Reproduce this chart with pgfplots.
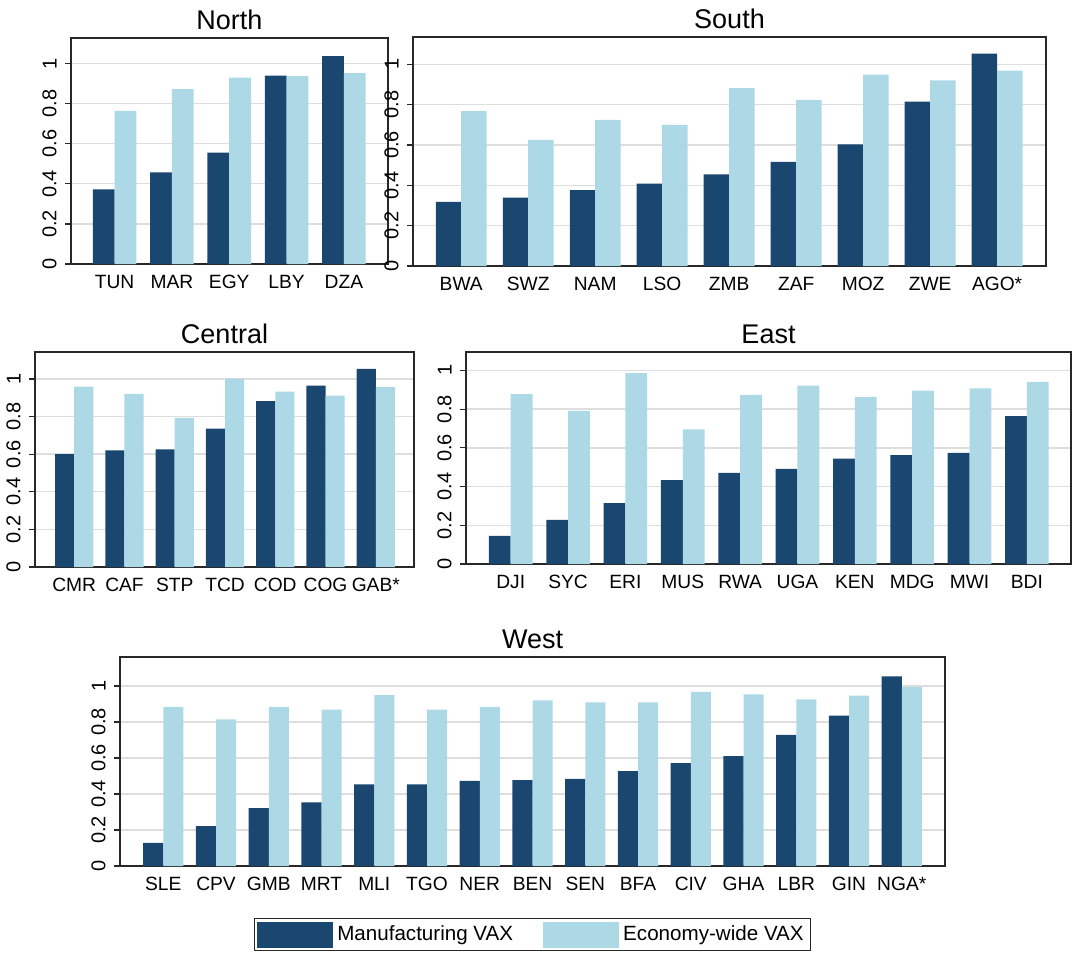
\documentclass[border=0pt]{standalone}
\usepackage{pgfplots}
\pgfplotsset{compat=1.18}
\usepackage{fontspec}
\setmainfont{Liberation Sans}

\definecolor{mfg}{RGB}{26,71,111}
\definecolor{eco}{RGB}{173,216,230}
\definecolor{gridc}{RGB}{222,222,222}
\definecolor{framec}{RGB}{40,40,40}

\pgfplotsset{
  panel/.style={
    scale only axis,
    anchor=north west,
    ymin=0,
    ytick={0,0.2,0.4,0.6,0.8,1},
    yticklabels={0,0.2,0.4,0.6,0.8,1},
    yticklabel style={rotate=90,anchor=south,font=\fontsize{10}{11}\selectfont,inner sep=4pt},
    xticklabel style={font=\fontsize{9.6}{11}\selectfont,inner sep=2pt,yshift=-3.3pt},
    ymajorgrids,
    grid style={gridc,line width=0.7pt},
    axis line style={framec,line width=0.6pt},
    ytick align=outside,
    ytick pos=left,
    xtick pos=bottom,
    y tick style={framec,line width=0.6pt},
    major tick length=3pt,
    x tick style={draw=none},
    title style={font=\fontsize{13.5}{15}\selectfont,yshift=-5.5pt},
  },
  mbar/.style={ybar,bar width=0.38,bar shift=-0.19,fill=mfg,draw=none},
  ebar/.style={ybar,bar width=0.38,bar shift=0.19,fill=eco,draw=none},
}

\begin{document}
\begin{tikzpicture}
\path[use as bounding box] (0pt,0pt) rectangle (537pt,-477.5pt);

% North
\begin{axis}[panel, at={(35.5pt,-19pt)}, width=158.5pt, height=113pt,
  title={North}, xmin=-0.76, xmax=4.77, ymax=1.127,
  xtick={0,...,4}, xticklabels={TUN,MAR,EGY,LBY,DZA}]
\addplot[mbar] coordinates {(0,0.372) (1,0.457) (2,0.555) (3,0.940) (4,1.037)};
\addplot[ebar] coordinates {(0,0.764) (1,0.872) (2,0.930) (3,0.937) (4,0.952)};
\end{axis}

% South
\begin{axis}[panel, at={(206.5pt,-18.5pt)}, width=316.5pt, height=114.5pt,
  title={South}, xmin=-0.72, xmax=8.73, ymax=1.136,
  xtick={0,...,8}, xticklabels={BWA,SWZ,NAM,LSO,ZMB,ZAF,MOZ,ZWE,AGO*}]
\addplot[mbar] coordinates {(0,0.318) (1,0.339) (2,0.377) (3,0.409) (4,0.455) (5,0.517) (6,0.604) (7,0.816) (8,1.053)};
\addplot[ebar] coordinates {(0,0.768) (1,0.626) (2,0.725) (3,0.700) (4,0.882) (5,0.824) (6,0.950) (7,0.921) (8,0.969)};
\end{axis}

% Central
\begin{axis}[panel, at={(17.5pt,-176pt)}, width=189.5pt, height=107.5pt,
  title={Central}, xmin=-0.78, xmax=6.76, ymax=1.143,
  xtick={0,...,6}, xticklabels={CMR,CAF,STP,TCD,COD,COG,GAB*}]
\addplot[mbar] coordinates {(0,0.600) (1,0.620) (2,0.625) (3,0.736) (4,0.882) (5,0.964) (6,1.054)};
\addplot[ebar] coordinates {(0,0.959) (1,0.921) (2,0.793) (3,1.002) (4,0.932) (5,0.911) (6,0.957)};
\end{axis}

% East
\begin{axis}[panel, at={(233pt,-176pt)}, width=302.5pt, height=106pt,
  title={East}, xmin=-0.78, xmax=9.77, ymax=1.095,
  xtick={0,...,9}, xticklabels={DJI,SYC,ERI,MUS,RWA,UGA,KEN,MDG,MWI,BDI}]
\addplot[mbar] coordinates {(0,0.145) (1,0.228) (2,0.314) (3,0.433) (4,0.471) (5,0.491) (6,0.545) (7,0.562) (8,0.574) (9,0.764)};
\addplot[ebar] coordinates {(0,0.878) (1,0.791) (2,0.986) (3,0.695) (4,0.874) (5,0.921) (6,0.862) (7,0.895) (8,0.907) (9,0.941)};
\end{axis}

% West, with the shared legend below it
\begin{axis}[panel, at={(60pt,-328.5pt)}, width=412.5pt, height=104.5pt,
  title={West}, xmin=-0.82, xmax=14.82, ymax=1.161,
  xtick={0,...,14}, xticklabels={SLE,CPV,GMB,MRT,MLI,TGO,NER,BEN,SEN,BFA,CIV,GHA,LBR,GIN,NGA*},
  legend style={at={(0.5,-0.249)},anchor=north,legend columns=2,
    draw=framec,line width=0.6pt,font=\fontsize{10.3}{12}\selectfont,
    inner sep=1.5pt,
    /tikz/every even column/.append style={column sep=13pt}},
  legend cell align=left]
\addplot[mbar,legend image code/.code={\fill[mfg] (0pt,-6.5pt) rectangle (38pt,6.5pt);}]
  coordinates {(0,0.128) (1,0.222) (2,0.322) (3,0.353) (4,0.453) (5,0.453) (6,0.473) (7,0.477) (8,0.484) (9,0.527) (10,0.571) (11,0.610) (12,0.728) (13,0.835) (14,1.054)};
\addlegendentry{Manufacturing VAX}
\addplot[ebar,legend image code/.code={\fill[eco] (0pt,-6.5pt) rectangle (38pt,6.5pt);}]
  coordinates {(0,0.884) (1,0.815) (2,0.884) (3,0.869) (4,0.950) (5,0.869) (6,0.884) (7,0.920) (8,0.909) (9,0.909) (10,0.967) (11,0.954) (12,0.926) (13,0.946) (14,0.994)};
\addlegendentry{Economy-wide VAX}
\end{axis}
\end{tikzpicture}
\end{document}
